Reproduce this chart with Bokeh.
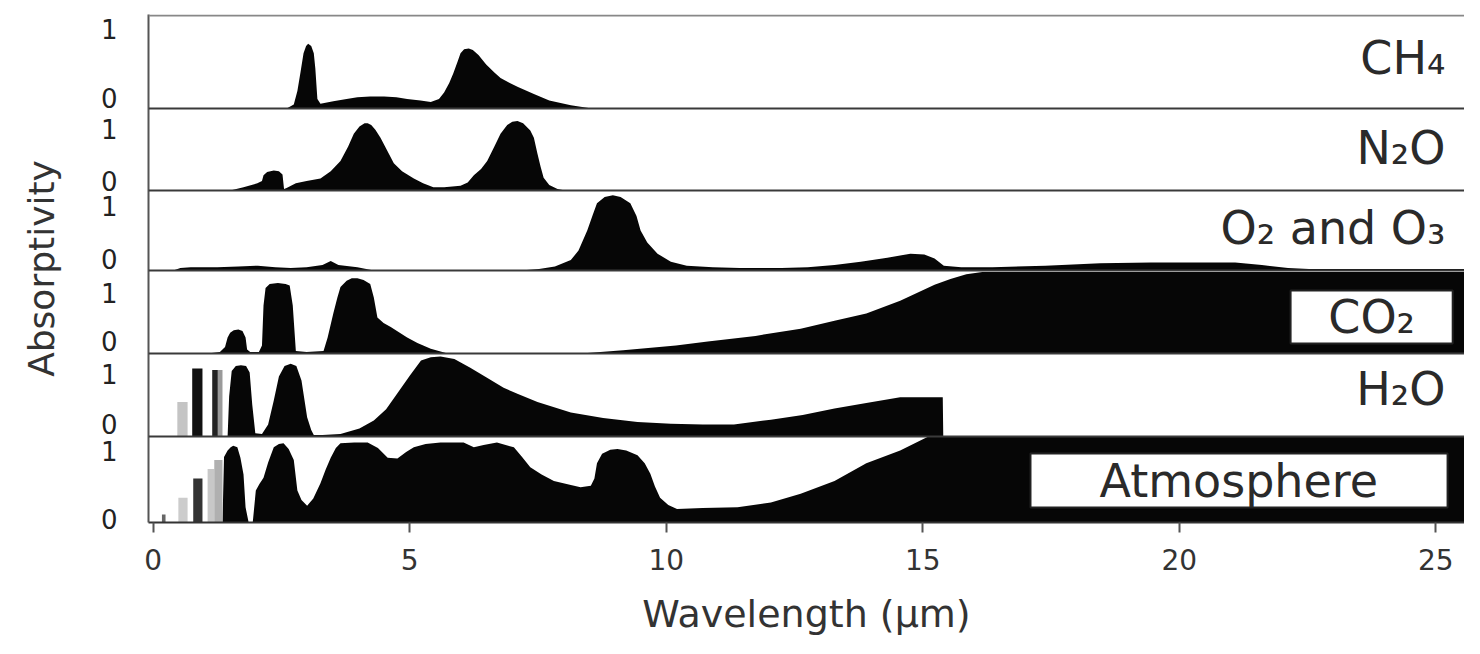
from bokeh.plotting import figure
from bokeh.models import Range1d, FixedTicker, Span, Label, BoxAnnotation
from bokeh.embed import file_html
from bokeh.resources import INLINE

# ---------------- data (wavelength in micrometres, absorptivity 0..1) ----------------
ch4_x = [2.60, 2.74, 2.81, 2.87, 2.93, 2.98, 3.02, 3.08, 3.13, 3.16, 3.20, 3.26, 3.51, 3.77, 3.98,
         4.23, 4.50, 4.74, 4.95, 5.21, 5.41, 5.57, 5.67, 5.77, 5.85, 5.93, 5.99, 6.06, 6.15, 6.23,
         6.34, 6.49, 6.65, 6.77, 6.95, 7.11, 7.42, 7.72, 8.14, 8.55]
ch4_v = [0, 0.05, 0.22, 0.45, 0.69, 0.78, 0.81, 0.78, 0.69, 0.5, 0.12, 0.06, 0.09, 0.12, 0.14,
         0.15, 0.15, 0.14, 0.12, 0.1, 0.08, 0.12, 0.2, 0.32, 0.44, 0.58, 0.69, 0.74, 0.75, 0.73,
         0.67, 0.55, 0.45, 0.38, 0.32, 0.27, 0.18, 0.1, 0.04, 0]

n2o_x = [1.50, 1.76, 2.03, 2.12, 2.15, 2.22, 2.35, 2.45, 2.52, 2.55, 2.60, 2.78, 2.99, 3.26, 3.46,
         3.65, 3.80, 3.91, 4.02, 4.12, 4.18, 4.25, 4.33, 4.43, 4.56, 4.69, 4.85, 5.08, 5.26, 5.46,
         5.67, 5.99, 6.13, 6.25, 6.39, 6.51, 6.65, 6.77, 6.90, 7.00, 7.10, 7.21, 7.35, 7.42, 7.49,
         7.55, 7.61, 7.72, 7.88, 8.03]
n2o_v = [0, 0.04, 0.09, 0.12, 0.19, 0.23, 0.25, 0.24, 0.2, 0.02, 0.03, 0.09, 0.12, 0.15, 0.24,
         0.37, 0.55, 0.71, 0.8, 0.84, 0.84, 0.82, 0.76, 0.66, 0.5, 0.34, 0.24, 0.15, 0.09, 0.04,
         0.04, 0.06, 0.1, 0.19, 0.27, 0.37, 0.55, 0.71, 0.82, 0.86, 0.87, 0.84, 0.75, 0.66, 0.46,
         0.3, 0.16, 0.07, 0.02, 0]

o3_x = [0.39, 0.53, 0.73, 1.25, 1.66, 2.04, 2.38, 2.68, 2.99, 3.30, 3.46, 3.61, 3.98, 4.30, 7.16,
        7.52, 7.83, 8.14, 8.29, 8.46, 8.57, 8.65, 8.80, 8.96, 9.11, 9.30, 9.42, 9.50, 9.63, 9.83,
        10.09, 10.40, 10.91, 11.43, 12.25, 12.76, 13.28, 13.79, 14.31, 14.76, 15.03, 15.23, 15.41,
        15.75, 16.36, 17.39, 18.46, 19.45, 20.48, 21.09, 21.61, 22.12, 22.53, 25.6]
o3_v = [0, 0.03, 0.04, 0.04, 0.05, 0.06, 0.04, 0.03, 0.04, 0.07, 0.12, 0.07, 0.04, 0, 0,
        0.02, 0.05, 0.13, 0.25, 0.5, 0.7, 0.84, 0.92, 0.94, 0.92, 0.84, 0.68, 0.5, 0.35, 0.21,
        0.11, 0.06, 0.04, 0.03, 0.03, 0.04, 0.07, 0.11, 0.16, 0.21, 0.2, 0.15, 0.06,
        0.04, 0.04, 0.06, 0.09, 0.1, 0.1, 0.1, 0.07, 0.03, 0.02, 0.02]

co2_x = [1.06, 1.30, 1.40, 1.45, 1.50, 1.57, 1.66, 1.74, 1.80, 1.83, 1.89, 2.06, 2.12, 2.15, 2.19,
         2.27, 2.43, 2.58, 2.66, 2.72, 2.78, 2.99, 3.32, 3.40, 3.51, 3.59, 3.65, 3.77, 3.87, 3.98,
         4.10, 4.23, 4.30, 4.37, 4.49, 4.63, 4.95, 5.15, 5.41, 5.74, 8.34, 9.16, 10.19, 10.81, 11.74,
         12.62, 13.28, 13.90, 14.56, 15.23, 15.54, 15.85, 16.16, 25.6]
co2_v = [0, 0.02, 0.08, 0.2, 0.26, 0.29, 0.3, 0.28, 0.2, 0.05, 0.02, 0.02, 0.1, 0.6, 0.82,
         0.87, 0.88, 0.87, 0.85, 0.6, 0.03, 0.02, 0.03, 0.2, 0.5, 0.7, 0.83, 0.91, 0.94, 0.94,
         0.92, 0.87, 0.7, 0.45, 0.38, 0.33, 0.2, 0.13, 0.06, 0, 0, 0.04, 0.1, 0.15, 0.22,
         0.31, 0.41, 0.5, 0.66, 0.86, 0.93, 0.99, 1.02, 1.02]

h2o_x = [1.45, 1.48, 1.53, 1.61, 1.71, 1.81, 1.88, 1.93, 1.99, 2.12, 2.24, 2.35, 2.45, 2.56, 2.68,
         2.79, 2.89, 3.00, 3.08, 3.13, 3.30, 3.65, 4.02, 4.30, 4.54, 4.76, 5.00, 5.22, 5.41, 5.60,
         5.87, 6.18, 6.49, 6.83, 7.11, 7.49, 8.14, 8.77, 9.44, 10.09, 10.71, 11.32, 12.04, 12.66,
         13.28, 13.90, 14.56, 15.39, 15.40, 15.44]
h2o_v = [0, 0.5, 0.82, 0.88, 0.89, 0.88, 0.8, 0.4, 0.04, 0.03, 0.15, 0.45, 0.75, 0.88, 0.91,
         0.88, 0.7, 0.24, 0.08, 0.02, 0.02, 0.03, 0.1, 0.2, 0.34, 0.54, 0.76, 0.95, 0.99, 1.0,
         0.97, 0.86, 0.74, 0.61, 0.53, 0.43, 0.3, 0.23, 0.18, 0.16, 0.15, 0.15, 0.21, 0.27,
         0.35, 0.42, 0.49, 0.49, 0, 0]
h2o_bar_left = [0.47, 0.76, 1.15, 1.26]
h2o_bar_right = [0.67, 0.96, 1.26, 1.35]
h2o_bar_top = [0.43, 0.85, 0.83, 0.83]
h2o_bar_color = ["#c4c4c4", "#111111", "#222222", "#9a9a9a"]

atm_x = [1.35, 1.38, 1.45, 1.51, 1.56, 1.64, 1.70, 1.76, 1.80, 1.86, 1.94, 2.00, 2.07, 2.15, 2.24,
         2.35, 2.45, 2.54, 2.64, 2.74, 2.81, 2.89, 3.00, 3.12, 3.26, 3.36, 3.46, 3.56, 3.65, 3.92,
         4.18, 4.38, 4.57, 4.76, 4.93, 5.08, 5.31, 5.60, 6.05, 6.25, 6.44, 6.70, 7.03, 7.19, 7.35,
         7.57, 7.81, 8.14, 8.33, 8.53, 8.60, 8.65, 8.75, 8.91, 9.05, 9.22, 9.44, 9.58, 9.69, 9.78,
         9.88, 10.04, 10.21, 10.71, 11.39, 12.04, 12.62, 13.28, 13.90, 14.56, 15.13, 25.6]
atm_v = [0, 0.82, 0.9, 0.94, 0.96, 0.94, 0.81, 0.6, 0.19, 0, 0, 0.4, 0.48, 0.56, 0.75,
         0.94, 0.98, 0.99, 0.92, 0.78, 0.4, 0.28, 0.21, 0.3, 0.49, 0.66, 0.81, 0.93, 0.99, 1.0,
         1.0, 0.93, 0.81, 0.8, 0.88, 0.94, 0.98, 1.0, 1.0, 0.94, 0.97, 1.0, 0.94, 0.82, 0.69,
         0.6, 0.52, 0.47, 0.44, 0.46, 0.55, 0.74, 0.86, 0.91, 0.92, 0.9, 0.84, 0.74, 0.61, 0.45,
         0.31, 0.22, 0.17, 0.18, 0.19, 0.25, 0.36, 0.52, 0.74, 0.9, 1.08, 1.08]
atm_bar_left = [0.17, 0.49, 0.78, 1.06, 1.19]
atm_bar_right = [0.24, 0.67, 0.96, 1.19, 1.35]
atm_bar_top = [0.1, 0.31, 0.55, 0.67, 0.78]
atm_bar_color = ["#666666", "#cccccc", "#333333", "#c8c8c8", "#b0b0b0"]

panel_names = ["ch4", "n2o", "o3", "co2", "h2o", "atm"]
panel_titles = ["CH₄", "N₂O", "O₂ and O₃", "CO₂", "H₂O", "Atmosphere"]
x_ticks = [0, 5, 10, 15, 20, 25]

# ---------------- layout constants ----------------
FRAME_H = 508
baselines = {"ch4": 414, "n2o": 332, "o3": 252, "co2": 169, "h2o": 86, "atm": 0}
SCALE = 80  # pixels for absorptivity 1
ytick_pos = [494, 425, 394, 342, 317, 264, 230, 182, 149, 99, 72, 4]
ytick_lab = ["1", "0", "1", "0", "1", "0", "1", "0", "1", "0", "1", "0"]

p = figure(width=1464, height=638, output_backend="svg", toolbar_location=None,
           x_range=Range1d(-0.092, 25.56), y_range=Range1d(0, FRAME_H),
           min_border_left=148, min_border_right=0, min_border_top=14, min_border_bottom=116,
           background_fill_color="white", border_fill_color="white")
p.outline_line_color = None
p.grid.visible = False

for name in panel_names:
    b = baselines[name]
    p.extra_y_ranges[name] = Range1d(start=-b / SCALE, end=(FRAME_H - b) / SCALE)

fill = "#060606"
series = {"ch4": (ch4_x, ch4_v), "n2o": (n2o_x, n2o_v), "o3": (o3_x, o3_v),
          "co2": (co2_x, co2_v), "h2o": (h2o_x, h2o_v), "atm": (atm_x, atm_v)}
for name, (xs, vs) in series.items():
    p.varea(x=xs, y1=[0] * len(xs), y2=vs, y_range_name=name, fill_color=fill)

p.quad(left=h2o_bar_left, right=h2o_bar_right, bottom=0, top=h2o_bar_top,
       fill_color=h2o_bar_color, line_color=None, y_range_name="h2o")
p.quad(left=atm_bar_left, right=atm_bar_right, bottom=0, top=atm_bar_top,
       fill_color=atm_bar_color, line_color=None, y_range_name="atm")

# panel separators and top line
for name in ["ch4", "n2o", "o3", "co2", "h2o"]:
    p.add_layout(Span(location=baselines[name], dimension="width", line_color="#3a3a3a", line_width=2))
p.add_layout(Span(location=FRAME_H - 1, dimension="width", line_color="#888888", line_width=2))

# axes
xa = p.xaxis[0]
xa.ticker = FixedTicker(ticks=x_ticks)
xa.axis_label = "Wavelength (µm)"
xa.axis_line_color = "#333333"
xa.axis_line_width = 2
xa.major_tick_line_color = "#555555"
xa.major_tick_line_width = 2
xa.major_tick_out = 10
xa.major_tick_in = 0
xa.minor_tick_line_color = None
xa.major_label_text_font = "DejaVu Sans"
xa.major_label_text_font_size = "28px"
xa.major_label_text_color = "#333333"
xa.major_label_standoff = 16
xa.axis_label_text_font = "DejaVu Sans"
xa.axis_label_text_font_size = "38px"
xa.axis_label_text_font_style = "normal"
xa.axis_label_text_color = "#333333"
xa.axis_label_standoff = 19

ya = p.yaxis[0]
ya.ticker = FixedTicker(ticks=ytick_pos)
ya.major_label_overrides = {t: s for t, s in zip(ytick_pos, ytick_lab)}
ya.axis_label = "Absorptivity"
ya.axis_line_color = "#555555"
ya.axis_line_width = 2
ya.major_tick_line_color = None
ya.minor_tick_line_color = None
ya.major_label_text_font = "DejaVu Sans"
ya.major_label_text_font_size = "26px"
ya.major_label_text_color = "#222222"
ya.major_label_standoff = 25
ya.axis_label_text_font = "DejaVu Sans"
ya.axis_label_text_font_size = "36px"
ya.axis_label_text_font_style = "normal"
ya.axis_label_text_color = "#333333"
ya.axis_label_standoff = 36

# label boxes
p.add_layout(BoxAnnotation(left=22.17, right=25.33, bottom=179, top=232, fill_color="white",
                           fill_alpha=1, line_color="#222222", line_width=2, line_alpha=1))
p.add_layout(BoxAnnotation(left=17.10, right=25.23, bottom=15, top=69, fill_color="white",
                           fill_alpha=1, line_color="#222222", line_width=2, line_alpha=1))

label_pos = {"ch4": (25.19, 465, "right"), "n2o": (25.19, 375, "right"),
             "o3": (25.19, 295, "right"), "co2": (23.75, 206, "center"),
             "h2o": (25.19, 134, "right"), "atm": (21.16, 42, "center")}
for name, title in zip(panel_names, panel_titles):
    lx, ly, al = label_pos[name]
    p.add_layout(Label(x=lx, y=ly, text=title, text_align=al, text_baseline="middle",
                       text_font="DejaVu Sans", text_font_size="46px", text_color="#2a2a2a"))

open("out.html", "w").write(file_html(p, INLINE))
